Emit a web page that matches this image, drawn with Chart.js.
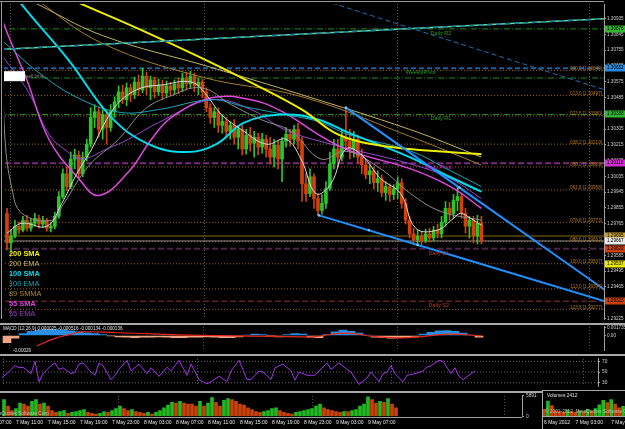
<!DOCTYPE html>
<html>
<head>
<meta charset="utf-8">
<title>EURUSD,M30</title>
<script src="https://cdn.jsdelivr.net/npm/chart.js@4.4.1/dist/chart.umd.min.js"></script>
<style>
    html, body { margin: 0; padding: 0; background: #000; width: 625px; height: 429px; overflow: hidden; }
    canvas { position: absolute; display: block; }
</style>
</head>
<body>
<canvas id="priceChart" width="625" height="323" style="left:0;top:0"></canvas>
<canvas id="macdChart" width="625" height="31" style="left:0;top:323px"></canvas>
<canvas id="oscChart" width="625" height="37" style="left:0;top:354px"></canvas>
<canvas id="volChart" width="542" height="38" style="left:0;top:391px"></canvas>
<canvas id="miniChart" width="83" height="39" style="left:542px;top:390px"></canvas>
<script>

// ================= candles (M30, bar 0 = 6 May 23:00) ======================
var opens = [
    1.29824, 1.29656, 1.29695, 1.29751, 1.29729, 1.29785, 1.29740, 1.29768, 1.29796, 1.29763,
    1.29785, 1.29740, 1.29751, 1.29808, 1.29920, 1.30050, 1.29977, 1.30134, 1.30157, 1.30050,
    1.30145, 1.30219, 1.30371, 1.30404, 1.30303, 1.30388, 1.30314, 1.30404, 1.30461, 1.30517,
    1.30472, 1.30540, 1.30500, 1.30573, 1.30528, 1.30607, 1.30540, 1.30585, 1.30517, 1.30556,
    1.30511, 1.30551, 1.30528, 1.30562, 1.30540, 1.30596, 1.30562, 1.30607, 1.30551, 1.30573,
    1.30517, 1.30427, 1.30371, 1.30404, 1.30326, 1.30348, 1.30292, 1.30326, 1.30258, 1.30303,
    1.30191, 1.30269, 1.30224, 1.30258, 1.30202, 1.30247, 1.30191, 1.30145, 1.30213, 1.30134,
    1.30235, 1.30275, 1.30247, 1.30303, 1.30235, 1.29993, 1.29937, 1.30033, 1.29909, 1.29841,
    1.29881, 1.29965, 1.30106, 1.30191, 1.30145, 1.30258, 1.30235, 1.30191, 1.30247, 1.30145,
    1.30100, 1.30044, 1.30067, 1.29999, 1.30022, 1.29943, 1.29977, 1.29932, 1.29965, 1.29999,
    1.29881, 1.29785, 1.29707, 1.29673, 1.29695, 1.29667, 1.29707, 1.29684, 1.29729, 1.29707,
    1.29774, 1.29853, 1.29824, 1.29898, 1.29920, 1.29824, 1.29751, 1.29785, 1.29695, 1.29768
];
var highs = [
    1.29853, 1.29729, 1.29785, 1.29774, 1.29808, 1.29813, 1.29796, 1.29824, 1.29813, 1.29808,
    1.29796, 1.29774, 1.29830, 1.29949, 1.30078, 1.30089, 1.30174, 1.30191, 1.30179, 1.30174,
    1.30247, 1.30427, 1.30444, 1.30427, 1.30416, 1.30416, 1.30444, 1.30489, 1.30551, 1.30556,
    1.30568, 1.30562, 1.30601, 1.30613, 1.30652, 1.30630, 1.30607, 1.30601, 1.30590, 1.30585,
    1.30579, 1.30573, 1.30585, 1.30596, 1.30624, 1.30630, 1.30635, 1.30624, 1.30596, 1.30590,
    1.30540, 1.30450, 1.30427, 1.30427, 1.30382, 1.30371, 1.30348, 1.30359, 1.30326, 1.30326,
    1.30303, 1.30314, 1.30292, 1.30281, 1.30281, 1.30269, 1.30258, 1.30247, 1.30235, 1.30258,
    1.30314, 1.30303, 1.30326, 1.30337, 1.30258, 1.30050, 1.30078, 1.30050, 1.29937, 1.29932,
    1.30005, 1.30174, 1.30247, 1.30247, 1.30303, 1.30427, 1.30303, 1.30292, 1.30269, 1.30191,
    1.30134, 1.30100, 1.30089, 1.30067, 1.30044, 1.30005, 1.29993, 1.29988, 1.30033, 1.30022,
    1.29909, 1.29808, 1.29740, 1.29729, 1.29723, 1.29735, 1.29740, 1.29751, 1.29763, 1.29808,
    1.29892, 1.29887, 1.29932, 1.29977, 1.29937, 1.29853, 1.29808, 1.29808, 1.29813, 1.29808
];
var lows = [
    1.29616, 1.29605, 1.29684, 1.29707, 1.29718, 1.29723, 1.29723, 1.29751, 1.29740, 1.29746,
    1.29723, 1.29718, 1.29735, 1.29796, 1.29909, 1.29954, 1.29965, 1.30078, 1.30022, 1.30033,
    1.30123, 1.30202, 1.30314, 1.30258, 1.30247, 1.30219, 1.30292, 1.30371, 1.30427, 1.30450,
    1.30438, 1.30461, 1.30478, 1.30495, 1.30511, 1.30500, 1.30472, 1.30483, 1.30495, 1.30472,
    1.30489, 1.30495, 1.30500, 1.30506, 1.30517, 1.30528, 1.30540, 1.30517, 1.30500, 1.30483,
    1.30404, 1.30337, 1.30314, 1.30286, 1.30281, 1.30258, 1.30247, 1.30219, 1.30191, 1.30157,
    1.30162, 1.30179, 1.30145, 1.30157, 1.30168, 1.30145, 1.30106, 1.30089, 1.30078, 1.30005,
    1.30202, 1.30207, 1.30219, 1.30191, 1.29892, 1.29892, 1.29920, 1.29853, 1.29813, 1.29819,
    1.29853, 1.29954, 1.30078, 1.30089, 1.30123, 1.30191, 1.30134, 1.30145, 1.30112, 1.30050,
    1.30022, 1.29993, 1.29965, 1.29949, 1.29920, 1.29898, 1.29892, 1.29903, 1.29909, 1.29853,
    1.29763, 1.29684, 1.29644, 1.29650, 1.29644, 1.29656, 1.29661, 1.29667, 1.29684, 1.29684,
    1.29751, 1.29785, 1.29796, 1.29841, 1.29796, 1.29712, 1.29684, 1.29656, 1.29650, 1.29650
];
var closes = [
    1.29656, 1.29695, 1.29751, 1.29729, 1.29785, 1.29740, 1.29768, 1.29796, 1.29763, 1.29785,
    1.29740, 1.29751, 1.29808, 1.29920, 1.30050, 1.29977, 1.30134, 1.30157, 1.30050, 1.30145,
    1.30219, 1.30371, 1.30404, 1.30303, 1.30388, 1.30314, 1.30404, 1.30461, 1.30517, 1.30472,
    1.30540, 1.30500, 1.30573, 1.30528, 1.30607, 1.30540, 1.30585, 1.30517, 1.30556, 1.30511,
    1.30551, 1.30528, 1.30562, 1.30540, 1.30596, 1.30562, 1.30607, 1.30551, 1.30573, 1.30517,
    1.30427, 1.30371, 1.30404, 1.30326, 1.30348, 1.30292, 1.30326, 1.30258, 1.30303, 1.30191,
    1.30269, 1.30224, 1.30258, 1.30202, 1.30247, 1.30191, 1.30145, 1.30213, 1.30134, 1.30235,
    1.30275, 1.30247, 1.30303, 1.30235, 1.29993, 1.29937, 1.30033, 1.29909, 1.29841, 1.29881,
    1.29965, 1.30106, 1.30191, 1.30145, 1.30258, 1.30235, 1.30191, 1.30247, 1.30145, 1.30100,
    1.30044, 1.30067, 1.29999, 1.30022, 1.29943, 1.29977, 1.29932, 1.29965, 1.29999, 1.29881,
    1.29785, 1.29707, 1.29673, 1.29695, 1.29667, 1.29707, 1.29684, 1.29729, 1.29707, 1.29774,
    1.29853, 1.29824, 1.29898, 1.29920, 1.29824, 1.29751, 1.29785, 1.29695, 1.29768, 1.29667
];

// price scale ticks and day separators (bar index)
var priceTicks = [1.29225, 1.29315, 1.29405, 1.29495, 1.29585, 1.29675, 1.29765, 1.29855, 1.29945, 1.30035,
                  1.30125, 1.30215, 1.30305, 1.30395, 1.30485, 1.30575, 1.30665, 1.30755, 1.30845, 1.30935];
var gridBars = [1, 49.5, 98, 146];

// ================= moving averages [bar, price] ======================
var sma200 = [[9, 1.31119], [17, 1.31035], [34, 1.30866], [49, 1.30708], [61, 1.30573], [74, 1.30416],
              [82, 1.30286], [89, 1.30230], [101, 1.30191], [119, 1.30162]];
var ema200 = [[-1, 1.31103], [6, 1.31035], [24, 1.30838], [51, 1.30658], [74, 1.30500], [101, 1.30303], [119, 1.30145]];
var smma89 = [[1, 1.31176], [8, 1.31035], [24, 1.30793], [49, 1.30601], [74, 1.30489], [101, 1.30264], [119, 1.30100]];
var sma100 = [[0, 1.31148], [3, 1.31035], [15.5, 1.30697], [26, 1.30376], [35.5, 1.30219], [45, 1.30174],
              [52.5, 1.30219], [59.5, 1.30342], [69.5, 1.30388], [78, 1.30359], [85.5, 1.30286],
              [101, 1.30145], [111, 1.30033], [119, 1.29948]];
var ema100 = [[-1.25, 1.30810], [8.75, 1.30613], [18.75, 1.30472], [28.75, 1.30399], [38, 1.30416],
              [51.25, 1.30472], [59.5, 1.30433], [69.5, 1.30388], [78, 1.30348], [85.5, 1.30275],
              [101.25, 1.30179], [111.25, 1.30067], [119, 1.29977]];
var sma55 = [[-2.5, 1.31091], [-1.25, 1.30934], [5, 1.30585], [10.5, 1.30247], [18, 1.30022], [23, 1.29926],
             [30.5, 1.30061], [36.25, 1.30247], [41.25, 1.30371], [51.25, 1.30483], [61.25, 1.30472],
             [69.5, 1.30399], [78, 1.30275], [86.25, 1.30179], [101.25, 1.30078], [111.25, 1.29977], [119, 1.29853]];
var ema55 = [[-1.25, 1.30725], [5.5, 1.30511], [10.5, 1.30275], [15, 1.30179], [18.75, 1.30134], [25, 1.30191],
             [30.5, 1.30247], [38, 1.30342], [51.25, 1.30472], [61.25, 1.30416], [69.5, 1.30303],
             [81.25, 1.30219], [101.25, 1.30106], [111.25, 1.30022], [119, 1.29909]];
var emaFast = [[0, 1.29712], [3.75, 1.29768], [10, 1.29751], [13.75, 1.29881], [17.5, 1.30050], [21.25, 1.30191],
               [25, 1.30359], [28.75, 1.30472], [33.75, 1.30540], [38.75, 1.30556], [46.25, 1.30573], [50, 1.30500],
               [53.75, 1.30388], [58.75, 1.30303], [65, 1.30219], [70, 1.30247], [73.75, 1.30134], [77.5, 1.29937],
               [81.25, 1.29993], [85, 1.30191], [88.75, 1.30162], [93.75, 1.30022], [98.75, 1.29937],
               [102.5, 1.29740], [108, 1.29729], [112, 1.29796], [113.75, 1.29824], [116.25, 1.29796], [119, 1.29757]];
var emaSlow = [[-1, 1.30697], [-0.5, 1.30247], [1.25, 1.29965], [3.75, 1.29824], [11.25, 1.29785], [14.25, 1.29881],
               [20.5, 1.30095], [28, 1.30247], [34.5, 1.30416], [40.5, 1.30489], [48.75, 1.30540], [56.25, 1.30444],
               [63.75, 1.30359], [71.25, 1.30292], [78.75, 1.30134], [85, 1.30179], [93.75, 1.30078],
               [101.25, 1.29937], [108.75, 1.29836], [119, 1.29785]];

// ================= objects: pivots, fibo, trend lines ======================
var pivotNames = ['Daily R2', 'WeeklyPivot', 'Daily R1', 'Daily Pivot', 'Daily S1', 'Daily S2'];
var pivotPrices = [1.30876, 1.30652, 1.30388, 1.30110, 1.29622, 1.29323];
var weeklyR1 = 1.30596;
var orderPrice = 1.29695;
var bidPrice = 1.29667;
var fibLevels = [0, 13, 23.6, 38.2, 50, 61.8, 78.6, 88.6, 100, 113, 123.6];
var fibPrices = [1.30640, 1.30497, 1.30380, 1.30219, 1.30089, 1.29958, 1.29773, 1.29663, 1.29537, 1.29394, 1.29277];
var trendUpper = [[85, 1.30427], [150, 1.29387]];
var trendLower = [[78.25, 1.29813], [150, 1.29323]];
var trendRising = [[-1.25, 1.30759], [150, 1.30934]];
var trendFalling = [[70, 1.31107], [150, 1.30528]];
var trendAnchors = [[85, 1.30427], [113.5, 1.29971], [78.25, 1.29813], [90.75, 1.29729], [103, 1.29644]];
var axisMarkPrices = [1.30876, 1.30652, 1.30388, 1.30110, 1.29695, 1.29667, 1.29622, 1.29537, 1.29323];
var legendNames = ['200 SMA', '200 EMA', '100 SMA', '100 EMA', '89 SMMA', '55 SMA', '55 EMA'];

// ================= MACD (every second bar) ======================
var macdHist = [-0.0016, -0.0006, 0.0004, 0.0009, 0.0012, 0.0013, 0.0013, 0.0012, 0.0010, 0.0008,
                0.0006, 0.0004, 0.0002, -0.0001, -0.0003, -0.0004, -0.0005, -0.0004, -0.0004, -0.0003,
                -0.0004, -0.0005, -0.0005, -0.0004, -0.0004, -0.0003, -0.0004, -0.0005, -0.0005, -0.0003,
                0.0001, 0.0003, 0.0002, -0.0001, -0.0003, 0.0002, 0.0004, 0.0003, -0.0004, -0.0005,
                0.0002, 0.0008, 0.0012, 0.0009, 0.0005, 0.0001, -0.0004, -0.0005, -0.0006, -0.0005,
                -0.0004, -0.0002, 0.0003, 0.0007, 0.0010, 0.0011, 0.0009, 0.0005, 0.0001, -0.0004];
var macdSignal = [[8, -0.0023], [12, -0.0008], [16, 0.0002], [19, 0.0008], [28, 0.0006], [49, 0.0000],
                  [74, -0.0003], [77, -0.0003], [85, 0.0005], [93, -0.0003], [101, -0.0005], [111, 0.0003], [119, -0.0001]];
var macdTicks = [0.001735, 0];

// ================= oscillator ======================
var oscBars = [0, 2, 3, 4, 5, 6, 8, 9, 10, 11, 13, 14, 15, 16, 18, 19, 20, 21, 23, 24, 25, 26, 28, 29, 30, 32, 33,
               35, 37, 38, 40, 42, 43, 45, 47, 48, 50, 52, 53, 55, 57, 58, 60, 62, 63, 65, 66, 68, 69, 71, 73, 74,
               75, 77, 79, 80, 82, 83, 85, 87, 88, 90, 92, 93, 95, 96, 97, 98, 99, 101, 102, 104, 106, 107, 108,
               110, 111, 113, 114, 115, 116, 118, 119];
var oscValues = [36, 47, 55, 62, 58, 59, 47, 70, 32, 47, 62, 67, 55, 58, 47, 50, 65, 67, 50, 44, 67, 62, 36, 44, 55, 72, 52,
                 65, 47, 58, 42, 59, 52, 72, 44, 65, 36, 28, 32, 42, 32, 52, 72, 36, 36, 52, 50, 36, 58, 65, 52, 35,
                 50, 44, 44, 52, 67, 55, 67, 55, 50, 27, 39, 50, 32, 47, 50, 62, 47, 32, 44, 47, 52, 59, 62,
                 72, 70, 47, 58, 42, 36, 47, 52];
var oscLevels = [30, 50, 70];

// ================= volumes (bars 20..119) ======================
var volumes = [3540, 4850, 3010, 1700, 2230, 3800, 3540, 3010, 4320, 4850,
               3540, 3800, 3010, 1700, 1180, 1440, 1700, 920, 1180, 1440,
               1700, 1970, 1180, 920, 660, 920, 1440, 1180, 1700, 2230,
               3010, 2230, 1700, 1970, 1440, 1180, 920, 1180, 660, 1180,
               1700, 2490, 3280, 4060, 3800, 4320, 3800, 3540, 3540, 3010,
               4320, 3010, 3800, 5370, 4060, 3010, 4590, 5110, 4850, 4320,
               3540, 3280, 2490, 1970, 1440, 1180, 1440, 1700, 2230, 2490,
               1700, 1180, 920, 660, 1180, 1440, 1700, 1970, 2230, 3010,
               3540, 2490, 1970, 1700, 1440, 1180, 1440, 1440, 1700, 1970,
               3010, 3540, 5630, 4850, 3800, 4320, 4060, 5110, 3540, 2490];
var volFirstBar = 20;
var volTicks = [0, 5891];
var timeTickBars = [16, 24, 32, 40, 48, 56, 64, 72, 80, 88, 96, 104, 112];
var timeLabels = ['7 May 07:00', '7 May 11:00', '7 May 15:00', '7 May 19:00', '7 May 23:00', '8 May 03:00',
                  '8 May 07:00', '8 May 11:00', '8 May 15:00', '8 May 19:00', '8 May 23:00', '9 May 03:00', '9 May 07:00'];

// small second window
var miniVolumes = [900, 2000, 1400, 700, 600, 500, 800, 600, 500, 700, 600, 900, 700, 1000, 1500, 2100, 1800, 2200, 1600, 1100, 1300];
var miniTickBars = [0, 8, 17];
var miniLabels = ['6 May 2012', '7 May 03:00', '7 May 07:00'];

// ============================================================
var FONT = '"Liberation Sans", Arial, sans-serif';
var GREEN = '#2cc42c', RED = '#d2400e';
Chart.defaults.font.family = FONT;
Chart.defaults.color = '#d8d8d8';

function pts(list) {
    return list.map(function (p) { return { x: p[0], y: p[1] }; });
}

function lineSet(list, color, width, dash, order) {
    return { type: 'line', data: pts(list), borderColor: color, borderWidth: width, borderDash: dash || [],
             pointRadius: 0, tension: 0.4, order: order };
}

function levelSet(price, color, width, dash, order) {
    return { type: 'line', data: [{ x: -5, y: price }, { x: 160, y: price }], borderColor: color,
             borderWidth: width, borderDash: dash, pointRadius: 0, order: order };
}

function dayGrid(extra) {
    var s = {
        type: 'linear', offset: false,
        grid: { display: true, drawTicks: false, offset: false, color: '#5c5c5c', lineWidth: 1 },
        border: { display: false, dash: [1, 2] },
        ticks: { display: false },
        afterBuildTicks: function (scale) { scale.ticks = gridBars.map(function (v) { return { value: v }; }); },
        afterFit: function (scale) { scale.height = 0; }
    };
    return Object.assign(s, extra);
}

function baseOptions(padding, scales) {
    return {
        responsive: false, animation: false, devicePixelRatio: 1,
        layout: { padding: padding },
        plugins: { legend: { display: false }, tooltip: { enabled: false } },
        scales: scales
    };
}

// time labels written left-aligned at their bar, like the terminal does
function drawTimeLabels(chart, bars, labels, y) {
    var ctx = chart.ctx, xs = chart.scales.x;
    ctx.save();
    ctx.font = '5px ' + FONT;
    ctx.fillStyle = '#e6e6e6';
    ctx.textAlign = 'left';
    ctx.textBaseline = 'middle';
    bars.forEach(function (b, k) {
        ctx.fillText(labels[k], xs.getPixelForValue(b), y);
    });
    ctx.restore();
}

// ================= price chart ======================
var mainDecor = {
    id: 'mainDecor',
    afterDatasetsDraw: function (chart) {
        var ctx = chart.ctx, a = chart.chartArea, xs = chart.scales.x, ys = chart.scales.y;
        ctx.save();
        ctx.beginPath();
        ctx.rect(a.left, a.top, a.right - a.left, a.bottom - a.top);
        ctx.clip();

        // fibo level texts
        ctx.font = '4.6px ' + FONT;
        ctx.textAlign = 'right';
        ctx.textBaseline = 'bottom';
        ctx.fillStyle = '#b87a1c';
        fibLevels.forEach(function (lv, k) {
            var txt = lv.toFixed(1).padStart(5, '0') + ' [' + fibPrices[k].toFixed(5) + ']';
            ctx.fillText(txt, a.right - 2, ys.getPixelForValue(fibPrices[k]) + 0.5);
        });

        // pivot names
        var pivotColors = ['#1fa01f', '#1fa01f', '#1fa01f', '#d22ad2', '#c23a1c', '#c23a1c'];
        var pivotBars = [106.25, 100, 106.25, 105, 105.75, 105.75];
        ctx.font = '5.5px ' + FONT;
        ctx.textAlign = 'left';
        ctx.textBaseline = 'top';
        pivotNames.forEach(function (n, k) {
            ctx.fillStyle = pivotColors[k];
            ctx.fillText(n, xs.getPixelForValue(pivotBars[k]), ys.getPixelForValue(pivotPrices[k]) + 1.5);
        });

        // sell limit tag under the weekly pivot line
        var sy = ys.getPixelForValue(pivotPrices[1]);
        ctx.fillStyle = '#ffffff';
        ctx.fillRect(a.left, sy + 3, 21, 10);
        ctx.fillStyle = '#8a8a8a';
        ctx.font = '4.8px ' + FONT;
        ctx.textBaseline = 'middle';
        ctx.fillText('sell limit', a.left + 22, sy + 8);

        // indicator legend
        var legendColors = ['#f2f000', '#c8b860', '#00dcec', '#14a8b8', '#b08a30', '#e040e0', '#9440c8'];
        legendNames.forEach(function (n, k) {
            ctx.font = (n.indexOf('SMA') > 0 ? 'bold ' : '') + '7.4px ' + FONT;
            ctx.fillStyle = legendColors[k];
            ctx.fillText(n, a.left + 5, 254 + k * 10);
        });
        ctx.restore();
    },
    afterDraw: function (chart) {
        var ctx = chart.ctx, a = chart.chartArea, ys = chart.scales.y;
        ctx.save();
        // frame
        ctx.strokeStyle = '#9a9a9a';
        ctx.lineWidth = 1;
        ctx.beginPath();
        ctx.moveTo(0, 1.5); ctx.lineTo(a.right, 1.5);
        ctx.moveTo(1.5, 1.5); ctx.lineTo(1.5, a.bottom);
        ctx.stroke();
        // price boxes on the axis
        var markColors = ['#33b533', '#2a8ae0', '#33b533', '#d030d0', '#c8a030', '#e8e8e8', '#c84010', '#e8e800', '#c84010'];
        ctx.font = '4.6px ' + FONT;
        ctx.textAlign = 'left';
        ctx.textBaseline = 'middle';
        axisMarkPrices.forEach(function (p, k) {
            var yy = Math.round(ys.getPixelForValue(p));
            ctx.fillStyle = markColors[k];
            ctx.fillRect(a.right + 1, yy - 3.5, chart.width - a.right - 1, 7);
            ctx.fillStyle = '#000';
            ctx.fillText(p.toFixed(5), a.right + 3, yy);
        });
        ctx.restore();
    }
};

var candleColor = function (c) { return closes[c.dataIndex] >= opens[c.dataIndex] ? GREEN : RED; };
var fibDatasets = fibPrices.map(function (p) { return levelSet(p, '#a5660f', 1, [1, 2], 60); });

var priceChart = new Chart(document.getElementById('priceChart'), {
    type: 'bar',
    data: {
        datasets: [
            lineSet(trendUpper, '#1e90ff', 2, [], 1),
            lineSet(trendLower, '#1e90ff', 2, [], 1),
            lineSet(trendRising, '#5ee08a', 1.5, [], 2),
            lineSet(trendRising, '#1d6fb0', 1.5, [5, 4], 1),
            lineSet(trendFalling, '#1d6fb0', 1, [5, 3], 1),
            { type: 'line', data: pts(trendAnchors), showLine: false, pointStyle: 'rect', pointRadius: 1.6,
              pointBackgroundColor: '#7cc8ff', pointBorderWidth: 0, order: 0 },
            lineSet(emaFast, '#d8d8d8', 1, [], 10),
            lineSet(emaSlow, '#8c8c8c', 1, [], 11),
            lineSet(sma200, '#eeee00', 2, [], 12),
            lineSet(ema200, '#c2b264', 1, [], 13),
            lineSet(smma89, '#a47c28', 1, [], 14),
            lineSet(sma100, '#00dcec', 2, [], 15),
            lineSet(ema100, '#14a8b8', 1, [], 16),
            lineSet(sma55, '#e048e0', 1.5, [], 17),
            lineSet(ema55, '#9448d0', 1, [], 18),
            { type: 'bar', data: highs.map(function (h, i) { return { x: i, y: [lows[i], h] }; }),
              backgroundColor: candleColor, barThickness: 1, grouped: false, order: 31 },
            { type: 'bar', data: opens.map(function (o, i) { return { x: i, y: [o, closes[i]] }; }),
              backgroundColor: candleColor, barThickness: 3, minBarLength: 1, grouped: false, order: 30 },
            levelSet(pivotPrices[0], '#1c8c1c', 1, [6, 2, 1, 2], 50),
            levelSet(weeklyR1, '#1c8c1c', 1, [6, 2, 1, 2], 50),
            levelSet(pivotPrices[2], '#1c8c1c', 1, [6, 2, 1, 2], 50),
            levelSet(pivotPrices[1], '#1a5ea8', 2, [5, 3], 50),
            levelSet(pivotPrices[3], '#7a2a7a', 2, [6, 3], 50),
            levelSet(pivotPrices[4], '#4c2448', 2, [6, 3], 50),
            levelSet(pivotPrices[5], '#5e2222', 1.5, [6, 3], 50),
            levelSet(orderPrice, '#8a6a10', 1, [], 50),
            levelSet(bidPrice, '#a8a8a8', 0.8, [], 50)
        ].concat(fibDatasets)
    },
    options: baseOptions({ left: 2, top: 3, right: 0, bottom: 1 }, {
        x: dayGrid({ min: -0.75, max: 149.75 }),
        y: {
            type: 'linear', position: 'right', min: 1.29222, max: 1.31018,
            grid: { display: true, drawOnChartArea: false, drawTicks: true, tickLength: 2, color: '#a0a0a0' },
            border: { display: true, color: '#a0a0a0', width: 1 },
            ticks: { font: { size: 4.6 }, color: '#d0d0d0', padding: 1,
                     callback: function (v) { return v.toFixed(5); } },
            afterBuildTicks: function (scale) { scale.ticks = priceTicks.map(function (v) { return { value: v }; }); },
            afterFit: function (scale) { scale.width = 21; }
        }
    }),
    plugins: [mainDecor]
});

// ================= MACD ======================
var macdDecor = {
    id: 'macdDecor',
    afterDraw: function (chart) {
        var ctx = chart.ctx;
        ctx.save();
        ctx.fillStyle = '#a8a8a8';
        ctx.fillRect(0, 0, chart.width, 2);
        ctx.font = '4.6px ' + FONT;
        ctx.fillStyle = '#e0e0e0';
        ctx.textBaseline = 'middle';
        ctx.fillText('MACD (12,26,9) 0.000025 -0.000516 -0.000134 -0.000136', 3, 6);
        ctx.fillText('-0.00026', 13, 28);
        ctx.restore();
    }
};

var macdChart = new Chart(document.getElementById('macdChart'), {
    type: 'bar',
    data: {
        datasets: [
            { type: 'line', data: pts(macdSignal), borderColor: '#e8281a', borderWidth: 1.2, pointRadius: 0, tension: 0.4, order: 0 },
            { type: 'bar', data: macdHist.map(function (v, k) { return { x: 2 * k + 0.5, y: v }; }),
              backgroundColor: function (c) { return macdHist[c.dataIndex] >= 0 ? '#2c8ee2' : '#f0a684'; },
              barThickness: 8, grouped: false, order: 1 }
        ]
    },
    options: baseOptions({ left: 2, top: 3, right: 0, bottom: 1 }, {
        x: dayGrid({ min: -0.75, max: 149.75 }),
        y: {
            type: 'linear', position: 'right', min: -0.00328, max: 0.00193,
            grid: { display: true, drawOnChartArea: false, drawTicks: true, tickLength: 2, color: '#a0a0a0' },
            border: { display: true, color: '#a0a0a0', width: 1 },
            ticks: { font: { size: 4.6 }, color: '#d0d0d0', padding: 1,
                     callback: function (v) { return v === 0 ? '0.00' : v.toFixed(6); } },
            afterBuildTicks: function (scale) { scale.ticks = macdTicks.map(function (v) { return { value: v }; }); },
            afterFit: function (scale) { scale.width = 21; }
        }
    }),
    plugins: [macdDecor]
});

// ================= oscillator ======================
var oscDecor = {
    id: 'oscDecor',
    afterDraw: function (chart) {
        var ctx = chart.ctx;
        ctx.save();
        ctx.fillStyle = '#a8a8a8';
        ctx.fillRect(0, 0, chart.width, 2);
        ctx.restore();
    }
};

var oscChart = new Chart(document.getElementById('oscChart'), {
    type: 'line',
    data: {
        datasets: [
            { data: oscBars.map(function (b, k) { return { x: b, y: oscValues[k] }; }), borderColor: '#a434ec',
              borderWidth: 1, pointRadius: 0, tension: 0, order: 0 }
        ].concat(oscLevels.map(function (v) {
            return { data: [{ x: -5, y: v }, { x: 160, y: v }], borderColor: '#6a6a6a', borderWidth: 1,
                     borderDash: [1, 2], pointRadius: 0, order: 5 };
        }))
    },
    options: baseOptions({ left: 2, top: 3, right: 0, bottom: 1 }, {
        x: dayGrid({ min: 0.75, max: 149.75 }),
        y: {
            type: 'linear', position: 'right', min: 23.8, max: 74.6,
            grid: { display: true, drawOnChartArea: false, drawTicks: true, tickLength: 2, color: '#a0a0a0' },
            border: { display: true, color: '#a0a0a0', width: 1 },
            ticks: { font: { size: 4.8 }, color: '#d0d0d0', padding: 2 },
            afterBuildTicks: function (scale) { scale.ticks = oscLevels.map(function (v) { return { value: v }; }); },
            afterFit: function (scale) { scale.width = 27; }
        }
    }),
    plugins: [oscDecor]
});

// ================= volumes with time axis ======================
var volDecor = {
    id: 'volDecor',
    afterDraw: function (chart) {
        var ctx = chart.ctx, a = chart.chartArea;
        ctx.save();
        ctx.fillStyle = '#a8a8a8';
        ctx.fillRect(0, 0, chart.width, 2);
        ctx.strokeStyle = '#a0a0a0';
        ctx.lineWidth = 1;
        ctx.beginPath();
        ctx.moveTo(0, Math.round(a.bottom) + 0.5);
        ctx.lineTo(a.right, Math.round(a.bottom) + 0.5);
        ctx.stroke();
        ctx.font = '4.8px ' + FONT;
        ctx.fillStyle = '#bcbcbc';
        ctx.textAlign = 'right';
        ctx.textBaseline = 'middle';
        ctx.fillText('\u00a9 2001-2012, MetaQuotes Software Corp.', 50, 23);
        ctx.restore();
        drawTimeLabels(chart, timeTickBars, timeLabels, 32);
    }
};

var volChart = new Chart(document.getElementById('volChart'), {
    type: 'bar',
    data: {
        datasets: [{
            data: volumes.map(function (v, k) { return { x: volFirstBar + k, y: v }; }),
            backgroundColor: function (c) {
                var k = c.dataIndex;
                return k > 0 && volumes[k] > volumes[k - 1] ? '#22b822' : '#c8420c';
            },
            barThickness: 3, grouped: false
        }]
    },
    options: baseOptions({ left: 2, top: 3, right: 0, bottom: 1 }, {
        x: dayGrid({ min: 20.5, max: 150.5, afterFit: function (scale) { scale.height = 11.5; } }),
        y: {
            type: 'linear', position: 'right', min: 0, max: 5891,
            grid: { display: true, drawOnChartArea: false, drawTicks: true, tickLength: 2, color: '#a0a0a0' },
            border: { display: true, color: '#a0a0a0', width: 1 },
            ticks: { font: { size: 4.8 }, color: '#d0d0d0', padding: 2,
                     callback: function (v) { return String(v); } },
            afterBuildTicks: function (scale) { scale.ticks = volTicks.map(function (v) { return { value: v }; }); },
            afterFit: function (scale) { scale.width = 20; }
        }
    }),
    plugins: [volDecor]
});

// ================= second window (inset) ======================
var miniDecor = {
    id: 'miniDecor',
    afterDraw: function (chart) {
        var ctx = chart.ctx;
        ctx.save();
        ctx.fillStyle = '#a8a8a8';
        ctx.fillRect(0, 0, chart.width, 1);
        ctx.fillRect(0, 0, 1, chart.height);
        ctx.fillRect(0, Math.round(chart.chartArea.bottom), chart.width, 1);
        ctx.font = '4.8px ' + FONT;
        ctx.fillStyle = '#e0e0e0';
        ctx.textBaseline = 'middle';
        ctx.fillText('Volumes 2412', 5, 6);
        ctx.fillStyle = '#bcbcbc';
        ctx.fillText('\u00a9 2001-2012, MetaQuotes Software Corp.', 3, 22);
        ctx.restore();
        drawTimeLabels(chart, miniTickBars, miniLabels, 33);
    }
};

var miniChart = new Chart(document.getElementById('miniChart'), {
    type: 'bar',
    data: {
        datasets: [{
            data: miniVolumes.map(function (v, k) { return { x: k, y: v }; }),
            backgroundColor: function (c) {
                var k = c.dataIndex;
                return k > 0 && miniVolumes[k] > miniVolumes[k - 1] ? '#22b822' : '#c8420c';
            },
            barThickness: 3, grouped: false
        }]
    },
    options: baseOptions({ left: 1, top: 8, right: 0, bottom: 1 }, {
        x: {
            type: 'linear', min: -0.25, max: 20.5, offset: false,
            grid: { display: false, offset: false },
            border: { display: false },
            ticks: { display: false },
            afterFit: function (scale) { scale.height = 12; }
        },
        y: { type: 'linear', display: false, min: 0, max: 2412 }
    }),
    plugins: [miniDecor]
});
</script>
</body>
</html>
